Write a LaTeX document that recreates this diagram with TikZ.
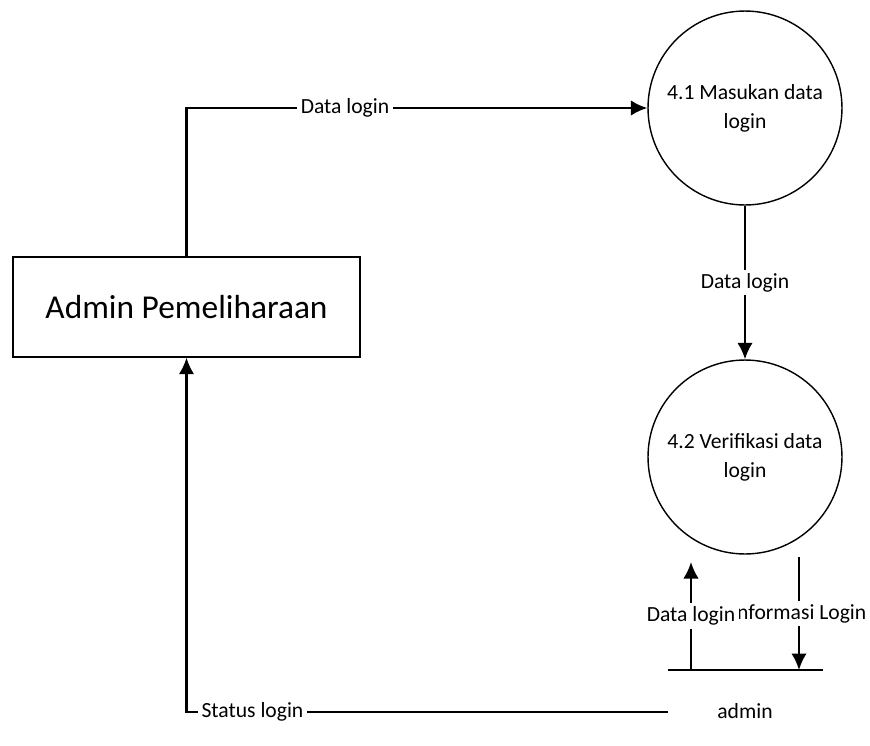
\documentclass[tikz,border=0pt]{standalone}
\usepackage{fontspec}
\setmainfont{Carlito}
\usetikzlibrary{arrows.meta}

\begin{document}
\begin{tikzpicture}[x=0.02cm,y=-0.02cm,
  flow/.style={->,>={Latex[length=3.3mm,width=3.1mm]},line width=1.3pt},
  lbl/.style={fill=white,inner sep=2pt,font=\fontsize{12.3}{15}\selectfont},
  proc/.style={draw,circle,line width=0.8pt,minimum size=3.88cm,align=center,font=\fontsize{12.3}{16.5}\selectfont},
  entity/.style={draw,rectangle,line width=0.8pt,minimum width=6.94cm,minimum height=2cm,font=\fontsize{19}{23}\selectfont}]
\useasboundingbox (0,0) rectangle (870,745);

\node[entity] (adm) at (186.5,307) {Admin Pemeliharaan};
\node[proc] (p41) at (745,108) {4.1 Masukan data\\login};
\node[proc] (p42) at (745,457) {4.2 Verifikasi data\\login};

\coordinate (dsl) at (668,670);
\coordinate (dsr) at (823,670);
\draw[line width=1.3pt] (dsl) -- (dsr);
\node[font=\fontsize{12.3}{15}\selectfont] (ds) at (745,711) {admin};
\coordinate (dsout) at (668,712);

\coordinate (upa) at (691,670);
\coordinate (upb) at (691,562);
\coordinate (dna) at (799,557);
\coordinate (dnb) at (799,670);

\draw[flow] (adm.north) |- node[lbl,pos=0.672]{Data login} (p41.west);
\draw[flow] (p41) -- node[lbl]{Data login} (p42);
\draw[flow] (dna) -- node[lbl]{Informasi Login} (dnb);
\draw[flow] (upa) -- node[lbl]{Data login} (upb);
\draw[flow] (dsout) -| node[lbl,pos=0.4315]{Status login} (adm.south);

\end{tikzpicture}
\end{document}
